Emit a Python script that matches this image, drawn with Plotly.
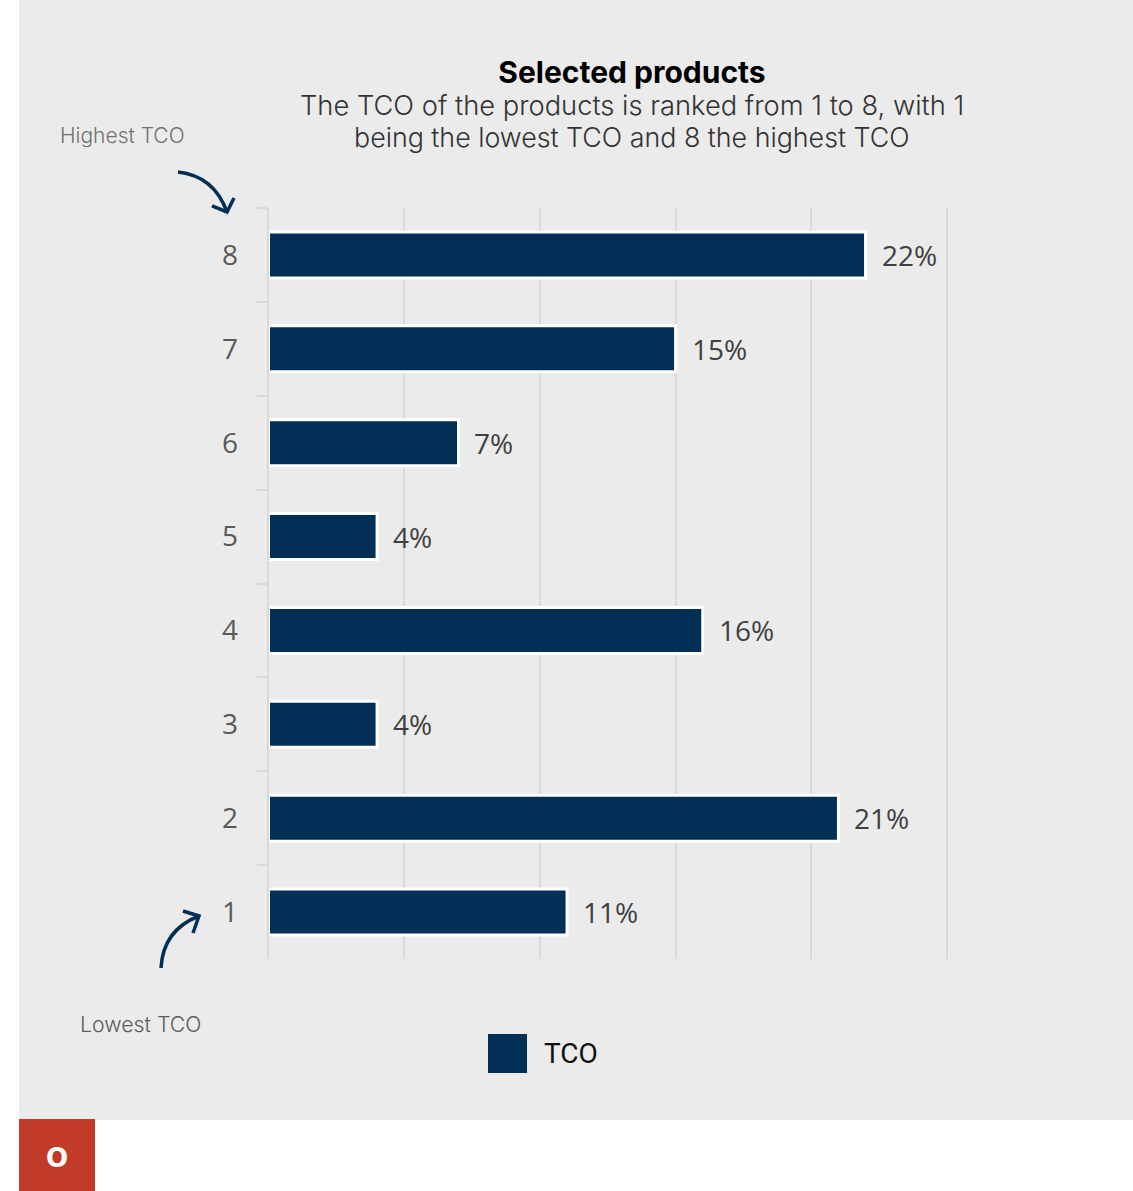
import plotly.graph_objects as go

W, H = 1133, 1191
ranks = ["1", "2", "3", "4", "5", "6", "7", "8"]
tco = [11, 21, 4, 16, 4, 7, 15, 22]
labels = ["11%", "21%", "4%", "16%", "4%", "7%", "15%", "22%"]
series_name = "TCO"
title = "Selected products"
subtitle = ["The TCO of the products is ranked from 1 to 8, with 1",
            "being the lowest TCO and 8 the highest TCO"]
NAVY = "#012F56"
GRID = "#D9D9D9"


def px(x):
    return x / W


def py(y):
    return 1 - y / H


def path(cmds):
    out = []
    for c in cmds:
        if isinstance(c, str):
            out.append(c)
        else:
            out.append(f"{px(c[0]):.5f},{py(c[1]):.5f}")
    return " ".join(out).replace("M ", "M").replace("Q ", "Q").replace("L ", "L")


fig = go.Figure(go.Bar(
    y=ranks, x=tco, orientation="h", name=series_name, showlegend=False,
    marker=dict(color=NAVY, line=dict(color="white", width=3)),
))
fig.update_layout(
    width=W, height=H, margin=dict(l=0, r=0, t=0, b=0),
    paper_bgcolor="white", plot_bgcolor="rgba(0,0,0,0)", bargap=0.51,
    font=dict(family="Open Sans"),
    xaxis=dict(domain=[px(268.5), px(952.4)], range=[0, 25.2], tick0=0, dtick=5, showticklabels=False,
               showgrid=True, gridcolor=GRID, gridwidth=2, zeroline=False, ticks=""),
    yaxis=dict(domain=[py(959), py(208)], type="category", categoryorder="array", categoryarray=ranks,
               range=[-0.5, len(ranks) - 0.5],
               tickson="boundaries", ticks="outside", ticklen=10, tickcolor=GRID, tickwidth=2,
               showline=True, linecolor=GRID, linewidth=2, showgrid=False,
               ticklabelstandoff=23,
               tickfont=dict(family="Open Sans", size=28, color="#595959")),
    title=dict(text=f"<b>{title}</b>", x=px(632), xanchor="center", xref="paper",
               y=py(72), yanchor="middle", yref="paper",
               font=dict(family="Inter", size=30, color="#000000", weight=800)),
)

shapes = [
    dict(type="rect", xref="paper", yref="paper", x0=px(19), x1=1, y0=py(1120), y1=1,
         fillcolor="#EBEBEB", line_width=0, layer="below"),
    dict(type="rect", xref="paper", yref="paper", x0=px(19), x1=px(95), y0=0, y1=py(1119),
         fillcolor="#C23B28", line_width=0, layer="below"),
    dict(type="rect", xref="paper", yref="paper", x0=px(488), x1=px(527), y0=py(1073), y1=py(1034),
         fillcolor=NAVY, line_width=0),
]
arrows = [
    ["M", (178, 172), "Q", (214, 176), (227, 212)],
    ["M", (212, 206), "L", (227, 212), "L", (234, 198)],
    ["M", (161, 968), "Q", (163, 930), (199, 916)],
    ["M", (183, 911), "L", (199, 916), "L", (193, 933)],
]
for a in arrows:
    fig.add_shape(type="path", xref="paper", yref="paper", path=path(a),
                  line=dict(color=NAVY, width=3.5))
for s in shapes:
    fig.add_shape(**s)


def note(text, x, y, size, color, family="Open Sans", anchor="center", weight=None):
    fig.add_annotation(text=text, xref="paper", yref="paper", x=px(x), y=py(y), showarrow=False,
                       xanchor=anchor, yanchor="middle",
                       font=dict(family=family, size=size, color=color, weight=weight))


for i, (lab, val) in enumerate(zip(labels, tco)):
    fig.add_annotation(text=lab, x=val, y=i, xref="x", yref="y", showarrow=False,
                       xanchor="left", yanchor="middle", xshift=14, yshift=0,
                       font=dict(family="Open Sans", size=28, color="#404040"))

note(subtitle[0], 632, 105.5, 27.3, "#333333", "Inter", weight=300)
note(subtitle[1], 632, 137, 26.8, "#333333", "Inter", weight=300)
note("Highest TCO", 122, 136, 21, "#707070", "Inter", weight=300)
note("Lowest TCO", 140.5, 1024, 21.3, "#5C5C5C", "Inter", weight=300)
note(series_name, 571.5, 1053, 28, "#111111", "Roboto")
note("O", 57, 1158, 26, "white", "DejaVu Sans", weight=700)

fig.write_html("out.html", config=dict(displayModeBar=False),
               post_script="document.body.style.margin='0';document.body.style.overflow='hidden';")
